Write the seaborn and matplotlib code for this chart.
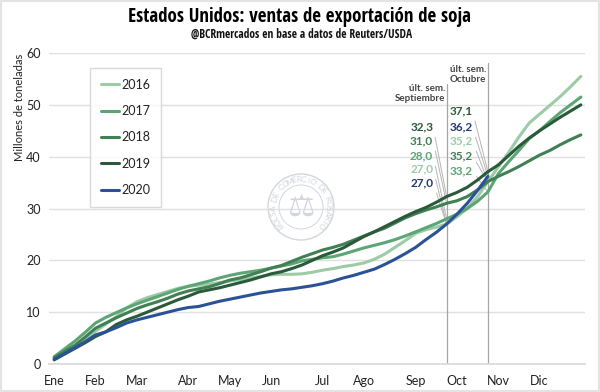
import numpy as np
import pandas as pd
import seaborn as sns
import matplotlib
matplotlib.use("Agg")
import matplotlib.pyplot as plt
from matplotlib.patches import Ellipse, Rectangle

months = ["Ene", "Feb", "Mar", "Abr", "May", "Jun", "Jul", "Ago", "Sep", "Oct", "Nov", "Dic"]
month_weeks = [0, 4, 8, 13, 17, 21, 26, 30, 35, 39, 43, 47]

s2016 = [1.1, 2.2, 3.4, 4.7, 6.3, 7.7, 9.1, 10.8, 12.0, 12.8, 13.4, 14.0, 14.6, 15.0, 15.2, 15.4, 15.7, 16.0, 16.3, 16.6,
         16.9, 17.2, 17.3, 17.3, 17.4, 17.7, 18.1, 18.4, 18.8, 19.1, 19.5, 20.2, 21.2, 22.5, 23.8, 25.2, 25.9, 26.4, 27.0, 28.4,
         30.0, 32.3, 35.2, 38.0, 40.8, 43.8, 46.5, 48.2, 49.9, 51.6, 53.5, 55.5]
s2017 = [1.4, 2.9, 4.4, 6.1, 7.9, 9.0, 9.9, 10.8, 11.6, 12.3, 13.0, 13.7, 14.4, 15.0, 15.5, 16.0, 16.6, 17.1, 17.5, 17.8,
         18.1, 18.5, 18.9, 19.3, 19.9, 20.2, 20.5, 20.7, 21.2, 21.8, 22.4, 22.9, 23.4, 24.0, 24.7, 25.5, 26.3, 27.1, 28.0, 28.9,
         30.0, 31.4, 33.2, 36.7, 39.0, 41.2, 43.5, 45.0, 46.8, 48.5, 50.0, 51.5]
s2018 = [1.2, 2.4, 3.6, 5.2, 6.9, 7.9, 8.9, 9.8, 10.7, 11.4, 12.0, 12.7, 13.5, 14.1, 14.5, 14.9, 15.5, 16.2, 16.6, 17.2,
         17.8, 18.5, 19.0, 19.8, 20.6, 21.3, 22.0, 22.5, 23.1, 23.9, 24.7, 25.5, 26.2, 27.2, 28.2, 29.0, 29.7, 30.3, 31.0, 31.5,
         32.3, 33.6, 35.2, 36.2, 37.1, 38.1, 39.2, 40.3, 41.2, 42.3, 43.3, 44.2]
s2019 = [0.8, 1.9, 3.0, 4.1, 5.3, 6.2, 7.6, 8.5, 9.2, 10.0, 10.8, 11.6, 12.4, 13.1, 13.9, 14.3, 14.7, 15.2, 15.7, 16.2,
         16.8, 17.4, 17.8, 18.4, 19.1, 20.0, 20.9, 21.6, 22.4, 23.5, 24.6, 25.5, 26.5, 27.5, 28.5, 29.4, 30.2, 31.2, 32.3, 33.1,
         34.1, 35.5, 37.1, 38.4, 40.2, 42.0, 43.6, 45.0, 46.3, 47.6, 48.8, 50.0]
s2020 = [0.9, 2.0, 3.1, 4.3, 5.6, 6.2, 7.0, 7.9, 8.5, 9.0, 9.5, 10.0, 10.5, 10.9, 11.1, 11.6, 12.1, 12.5, 12.9, 13.3,
         13.7, 14.0, 14.3, 14.5, 14.8, 15.1, 15.5, 16.0, 16.6, 17.1, 17.7, 18.3, 19.2, 20.2, 21.3, 22.5, 24.0, 25.4, 27.0, 28.9,
         31.0, 33.5, 36.2]

years = ["2016", "2017", "2018", "2019", "2020"]
series = [s2016, s2017, s2018, s2019, s2020]
colors = ["#9CCBA6", "#5CA574", "#417F55", "#2A5A3A", "#2B5197"]

sep_values = [32.3, 31.0, 28.0, 27.0, 27.0]
sep_years = ["2019", "2018", "2017", "2016", "2020"]
oct_values = [37.1, 36.2, 35.2, 35.2, 33.2]
oct_years = ["2019", "2020", "2016", "2018", "2017"]
sep_week, oct_week = 38, 42

df = pd.concat([pd.DataFrame({"sem": np.arange(len(v)), "valor": v, "año": y}) for v, y in zip(series, years)])

sns.set_theme(style="white")
plt.rcParams["font.family"] = ["Lato", "DejaVu Sans"]
fig = plt.figure(figsize=(6, 3.92), dpi=100)
ax = fig.add_axes([49 / 600, 1 - 364 / 392, 536 / 600, 311 / 392])


def fx(px):
    return px / 600


def fy(py):
    return 1 - py / 392


# seal watermark
seal_c = (301, 207)
sc = "#D3D6DE"
for r, lw in [(33, 1.0), (22, 0.7)]:
    fig.add_artist(Ellipse((fx(seal_c[0]), fy(seal_c[1])), 2 * r / 600, 2 * r / 392,
                           fill=False, ec=sc, lw=lw, transform=fig.transFigure, zorder=0))
seal_text = "BOLSA DE COMERCIO DE ROSARIO"
angles = np.linspace(222, -42, len(seal_text))
for ch, a in zip(seal_text, angles):
    t = np.deg2rad(a)
    fig.text(fx(seal_c[0] + 27.5 * np.cos(t)), fy(seal_c[1] - 27.5 * np.sin(t)), ch, fontsize=6, color=sc,
             rotation=a - 90, rotation_mode="anchor", ha="center", va="center", zorder=0)
fig.text(fx(seal_c[0]), fy(seal_c[1]), "⚖", fontsize=22, color=sc, ha="center", va="center",
         family=["DejaVu Sans"], zorder=0)

sns.lineplot(data=df, x="sem", y="valor", hue="año", hue_order=years, palette=colors, lw=2.2, ax=ax,
             solid_capstyle="round", zorder=3, legend=False)

ax.set_xlim(-0.5, 51.4)
ax.set_ylim(0, 60)
ax.set_xticks(month_weeks, months)
ax.set_yticks(range(0, 61, 10))
ax.patch.set_alpha(0)
ax.grid(axis="y", color="#E0E0E0", lw=1)
ax.set_axisbelow(True)
for s in ["top", "left", "right"]:
    ax.spines[s].set_visible(False)
ax.spines["bottom"].set_color("#D9D9D9")
ax.tick_params(axis="x", length=0, labelsize=9, labelcolor="#222222", pad=8)
ax.tick_params(axis="y", length=0, labelsize=9, labelcolor="#222222", pad=6)
ax.set_xlabel("")
ax.set_ylabel("Millones de toneladas", fontsize=8, color="#222222")
ax.yaxis.set_label_coords((25 - 49) / 536, (364 - 107) / 311)

# legend
handles = [plt.Line2D([], [], color=c, lw=2.2) for c in colors]
leg = ax.legend(handles, years, loc="upper left", bbox_to_anchor=((90 - 49) / 536, 1 - (68 - 53) / 311),
                borderaxespad=0, fontsize=9, frameon=True, fancybox=False, edgecolor="#D0D0D0",
                labelspacing=1.15, handlelength=1.5, handletextpad=0.15, borderpad=0.85)
leg.get_frame().set_linewidth(1)
for t in leg.get_texts():
    t.set_color("#222222")

# reference lines
ax.plot([sep_week, sep_week], [0, 54], color="#A6A6A6", lw=0.9, zorder=2)
ax.plot([oct_week, oct_week], [0, 58], color="#A6A6A6", lw=0.9, zorder=2)
ax.text(sep_week - 0.15, 50.3, "últ. sem.\nSeptiembre", ha="right", va="bottom", fontsize=7,
        color="#444444", fontweight="bold", linespacing=1.15)
ax.text(oct_week - 0.15, 54.0, "últ. sem.\nOctubre", ha="right", va="bottom", fontsize=7,
        color="#444444", fontweight="bold", linespacing=1.15)

col = dict(zip(years, colors))
col["2020"] = "#1F3A78"


def labels(values, yrs, week, xtext, ypix):
    for v, y, py in zip(values, yrs, ypix):
        ax.annotate(f"{v:.1f}".replace(".", ","), xy=(week, v), xytext=(xtext, (364 - py) / 311 * 60),
                    ha="right", va="center", fontsize=8.5, fontweight="bold", color=col[y],
                    arrowprops=dict(arrowstyle="-", color="#B5B5B5", lw=0.7, shrinkA=1, shrinkB=0,
                                    relpos=(1, 0.5)), zorder=2)


labels(sep_values, sep_years, sep_week, 36.7, [127, 141, 156, 169, 183])
labels(oct_values, oct_years, oct_week, 40.5, [111, 127, 141, 156, 171])

fig.text(0.5, fy(17), "Estados Unidos: ventas de exportación de soja", ha="center", va="center",
         fontsize=13.7, fontweight="bold", color="black", family=["Open Sans Condensed", "DejaVu Sans"])
fig.text(0.502, fy(34), "@BCRmercados en base a datos de Reuters/USDA", ha="center", va="center",
         fontsize=8.3, fontweight="bold", color="#111111", family=["Open Sans Condensed", "DejaVu Sans"])

fig.add_artist(Rectangle((0, 0), 1, 1, fill=False, ec="#E4E4E4", lw=3, transform=fig.transFigure))
fig.savefig("out.png", dpi=100, facecolor="white")
